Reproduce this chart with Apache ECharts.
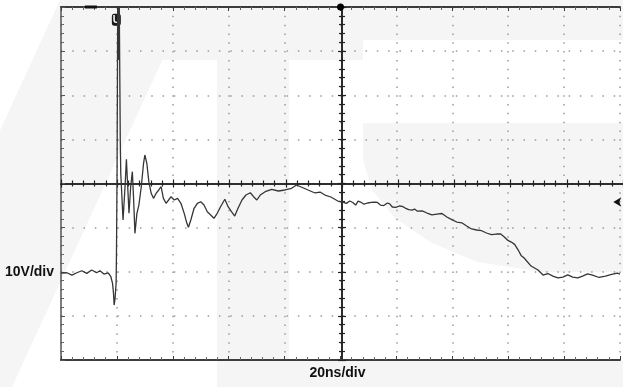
<!DOCTYPE html>
<html>
<head>
<meta charset="utf-8">
<script src="https://cdn.jsdelivr.net/npm/echarts@6/dist/echarts.min.js"></script>
<style>
  html, body { margin: 0; padding: 0; background: #fff; }
  #scope { width: 623px; height: 387px; }
</style>
</head>
<body>
<div id="scope"></div>
<script>
// trace: time (ns, trigger at 0) and volts
const timeNs = [
  -100, -97.87, -96.10, -94.33, -92.55, -90.78, -89.01, -87.23, -86.06, -84.65,
  -83.12, -82.16, -81.56, -81.21, -80.99, -80.64, -80.28, -80.14, -79.93, -79.68,
  -79.43, -79.22, -78.79, -78.62, -77.80, -77.09, -76.60, -76.13, -75.67, -75.07,
  -74.47, -74.01, -73.55, -72.84, -72.13, -71.28, -70.46, -70.00, -69.29, -68.58,
  -67.73, -66.91, -65.96, -65.04, -64.18, -63.37, -62.41, -61.49, -60.64, -59.47,
  -58.30, -57.09, -55.92, -54.96, -54.40, -53.55, -52.38, -51.21, -50.00, -48.83,
  -47.66, -46.45, -45.28, -44.11, -42.91, -41.38, -40.21, -39.01, -37.84, -36.67,
  -35.25, -33.83, -32.27, -31.10, -29.93, -28.72, -26.95, -24.61, -22.23, -19.86,
  -17.52, -15.74, -14.08, -11.60, -9.11, -7.34, -5.57, -3.44, -0.96, 0.82,
  2.10, 3.30, 4.40, 5.43, 6.30, 7.20, 8.40, 9.68, 11.00, 12.16,
  13.20, 14.29, 15.50, 16.77, 17.60, 18.55, 19.80, 21.03, 22.10, 23.16,
  24.40, 25.64, 26.50, 27.41, 29.20, 30.96, 32.70, 34.50, 36.30, 38.05,
  39.80, 41.60, 43.40, 45.14, 46.90, 48.69, 50.50, 52.23, 54.00, 55.78,
  57.20, 58.62, 59.90, 61.10, 62.30, 63.58, 64.60, 65.71, 68.19, 70.67,
  72.45, 74.20, 75.99, 77.80, 79.54, 81.30, 83.08, 84.90, 86.63, 88.40,
  90.18, 92.50, 94.79, 97.00, 99.04, 100
];
const volts = [
  -20.30, -20.23, -20.75, -20.23, -19.77, -20.36, -19.61, -20.23, -19.77, -20.52,
  -20.23, -21.13, -22.63, -24.90, -27.55, -25.96, -22.56, -15.08, 3.81, 46.1,
  28.0, 46.1, 9.86, 2.31, -8.28, -0.73, 5.49, -0.73, -6.76, -0.73,
  2.68, -3.74, -11.29, -6.76, -4.88, -0.73, 4.58, 6.46, 4.58, 0.41,
  -2.22, -3.36, -2.22, -1.47, -0.73, -3.36, -4.49, -3.74, -2.99, -3.74,
  -3.36, -4.49, -6.76, -9.03, -9.93, -8.28, -5.62, -4.49, -4.13, -4.88,
  -6.39, -7.14, -7.89, -6.76, -5.26, -3.58, -5.26, -6.39, -7.37, -5.62,
  -3.74, -2.61, -2.09, -2.99, -3.74, -2.61, -1.86, -1.32, -1.70, -1.47,
  -1.09, -0.34, -0.79, -1.47, -2.15, -1.93, -2.61, -3.06, -3.97, -4.20,
  -4.50, -3.97, -4.30, -4.88, -4.00, -4.20, -4.70, -4.42, -4.30, -4.20,
  -4.30, -4.88, -5.00, -4.42, -4.60, -5.33, -5.40, -5.10, -5.20, -5.56,
  -5.90, -6.01, -5.80, -6.24, -6.20, -6.69, -7.10, -6.92, -6.80, -7.60,
  -8.20, -8.73, -8.90, -9.64, -10.30, -10.54, -10.70, -11.22, -11.60, -11.45,
  -11.40, -12.13, -12.90, -13.27, -13.80, -15.08, -16.30, -16.89, -18.71, -19.61,
  -20.75, -20.40, -20.98, -21.40, -21.20, -20.70, -21.20, -21.40, -20.98, -20.50,
  -20.75, -21.30, -20.98, -20.60, -20.30, -20.52
];

const voltsPerDiv = '10V/div';
const timePerDiv = '20ns/div';
const channelLevel = -20;

const trace = timeNs.map((t, i) => [t, volts[i]]);

const chart = echarts.init(document.getElementById('scope'), null, { renderer: 'canvas' });

const gridBox = { left: 61, top: 7, right: -2, bottom: 27 };
const border = '#3c3c3c';
const dots = '#9a9a9a';
const shade = '#f5f5f5';

function centreAxis (dim, pos) {
  return {
    type: 'value',
    gridIndex: 1,
    position: pos,
    min: dim === 'x' ? -100 : -40,
    max: dim === 'x' ? 100 : 40,
    interval: dim === 'x' ? 20 : 10,
    axisLine: { show: true, onZero: true, lineStyle: { color: '#222', width: 1.6 } },
    axisTick: { show: true, inside: false, length: 4, lineStyle: { color: '#222', width: 1.2 } },
    minorTick: { show: true, splitNumber: 5, length: 3, lineStyle: { color: '#222', width: 1.2 } },
    axisLabel: { show: false },
    splitLine: { show: false }
  }
}

const option = {
  backgroundColor: '#fff',
  animation: false,
  graphic: [
    // faint watermark behind the screen
    { type: 'polygon', z: -10, silent: true, shape: { points: [[60, 0], [190, 0], [12, 387], [-118, 387]] }, style: { fill: shade } },
    { type: 'rect', z: -10, silent: true, shape: { x: 160, y: 0, width: 203, height: 60 }, style: { fill: shade } },
    { type: 'rect', z: -10, silent: true, shape: { x: 217, y: 60, width: 72, height: 327 }, style: { fill: shade } },
    { type: 'rect', z: -10, silent: true, shape: { x: 363, y: 0, width: 260, height: 40 }, style: { fill: shade } },
    { type: 'rect', z: -10, silent: true, shape: { x: 217, y: 361, width: 406, height: 26 }, style: { fill: shade } },
    { type: 'polygon', z: -10, silent: true, shape: { points: [[363, 123], [623, 123], [623, 272], [543, 272], [477, 262], [430, 242], [395, 218], [372, 190], [363, 160]] }, style: { fill: shade } }
  ],
  grid: [
    Object.assign({ containLabel: false }, gridBox),
    Object.assign({ containLabel: false }, gridBox)
  ],
  xAxis: [
    {
      type: 'value',
      gridIndex: 0,
      position: 'bottom',
      min: -100,
      max: 100,
      interval: 20,
      axisLine: { show: true, onZero: false, lineStyle: { color: border, width: 2 } },
      axisTick: { show: true, inside: true, length: 4, lineStyle: { color: border } },
      minorTick: { show: true, splitNumber: 5, length: 3, lineStyle: { color: '#666' } },
      axisLabel: {
        margin: 6,
        color: '#111',
        fontFamily: 'Liberation Sans, Arial, sans-serif',
        fontWeight: 'bold',
        fontSize: 14,
        padding: [0, 6, 0, 0],
        formatter: v => (v === 0 ? timePerDiv : '')
      },
      splitLine: { show: true, lineStyle: { color: dots, width: 1.5, type: [1.5, 7.32] } }
    },
    {
      type: 'value',
      gridIndex: 0,
      position: 'top',
      min: -100,
      max: 100,
      interval: 20,
      axisLine: { show: true, onZero: false, lineStyle: { color: border, width: 2 } },
      axisTick: { show: true, inside: true, length: 4, lineStyle: { color: border } },
      minorTick: { show: true, splitNumber: 5, length: 3, lineStyle: { color: '#666' } },
      axisLabel: { show: false },
      splitLine: { show: false }
    },
    centreAxis('x', 'bottom'),
    centreAxis('x', 'top')
  ],
  yAxis: [
    {
      type: 'value',
      gridIndex: 0,
      position: 'left',
      min: -40,
      max: 40,
      interval: 10,
      axisLine: { show: true, onZero: false, lineStyle: { color: '#555', width: 1.5 } },
      axisTick: { show: true, inside: true, length: 4, lineStyle: { color: '#555' } },
      minorTick: { show: true, splitNumber: 5, length: 3, lineStyle: { color: '#666' } },
      axisLabel: {
        margin: 7,
        color: '#111',
        fontFamily: 'Liberation Sans, Arial, sans-serif',
        fontWeight: 'bold',
        fontSize: 14,
        formatter: v => (v === channelLevel ? voltsPerDiv : '')
      },
      splitLine: { show: true, lineStyle: { color: dots, width: 1.5, type: [1.5, 9.78] } }
    },
    centreAxis('y', 'left'),
    centreAxis('y', 'right')
  ],
  series: [
    {
      type: 'line',
      xAxisIndex: 0,
      yAxisIndex: 0,
      data: trace,
      showSymbol: false,
      clip: true,
      z: 5,
      lineStyle: { color: '#363636', width: 1.3 },
      markPoint: {
        silent: true,
        animation: false,
        data: [
          // trigger position on top edge
          { coord: [0, 40], symbol: 'circle', symbolSize: 7, itemStyle: { color: '#000' }, label: { show: false } },
          // overrange marker
          { coord: [-80.2, 37.1], symbol: 'roundRect', symbolSize: [9, 12], itemStyle: { color: '#1a1a1a' },
            label: { show: true, position: 'inside', formatter: 'U', color: '#fff', fontSize: 10, fontWeight: 'bold' } },
          // horizontal position bar
          { coord: [-89.3, 40], symbol: 'rect', symbolSize: [12, 3], itemStyle: { color: '#111' }, label: { show: false } },
          // channel ground marker
          { coord: [97.6, -4.2], symbol: 'arrow', symbolRotate: 90, symbolSize: [7, 8], itemStyle: { color: '#111' }, label: { show: false } }
        ]
      }
    }
  ]
}

chart.setOption(option)
</script>
</body>
</html>
